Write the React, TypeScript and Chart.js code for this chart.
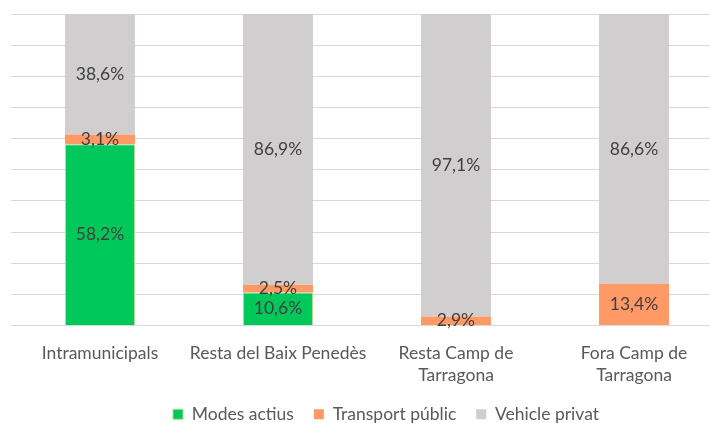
import React, { useEffect, useRef } from "react";
import { Chart, registerables } from "chart.js";

Chart.register(...registerables);

const categories: (string | string[])[] = [
  "Intramunicipals",
  "Resta del Baix Penedès",
  ["Resta Camp de", "Tarragona"],
  ["Fora Camp de", "Tarragona"],
];
const modesActius = [58.2, 10.6, 0, 0];
const transportPublic = [3.1, 2.5, 2.9, 13.4];
const vehiclePrivat = [38.6, 86.9, 97.1, 86.6];

const FONT = "Lato, 'Open Sans', sans-serif";
const FS = 17.5;

const valueLabels = {
  id: "valueLabels",
  afterLayout(chart: any) {
    if (chart.legend) {
      chart.legend.left += 19;
      chart.legend.right += 19;
    }
  },
  afterDatasetsDraw(chart: any) {
    const ctx = chart.ctx;
    ctx.save();
    ctx.font = `${FS}px ${FONT}`;
    ctx.fillStyle = "#404040";
    ctx.textAlign = "center";
    ctx.textBaseline = "middle";
    chart.data.datasets.forEach((ds: any, di: number) => {
      const meta = chart.getDatasetMeta(di);
      meta.data.forEach((el: any, i: number) => {
        const v = ds.data[i];
        if (!v) return;
        const y = (el.y + el.base) / 2;
        ctx.fillText(v.toFixed(1).replace(".", ",") + "%", el.x, y);
      });
    });
    ctx.restore();
  },
};

export default function App() {
  const ref = useRef<HTMLCanvasElement>(null);
  useEffect(() => {
    const chart = new Chart(ref.current!, {
      type: "bar",
      data: {
        labels: categories,
        datasets: [
          {
            label: "Modes actius",
            data: modesActius,
            backgroundColor: "#00c85a",
            borderColor: "#a9dc9a",
            borderWidth: 1,
          },
          {
            label: "Transport públic",
            data: transportPublic,
            backgroundColor: "#ff9966",
            borderWidth: 0,
          },
          {
            label: "Vehicle privat",
            data: vehiclePrivat,
            backgroundColor: "#d0cece",
            borderWidth: 0,
          },
        ],
      },
      options: {
        responsive: false,
        animation: false,
        devicePixelRatio: 1,
        layout: { padding: { left: 11, top: 14, right: 0, bottom: -10 } },
        datasets: {
          bar: { categoryPercentage: 1, barPercentage: 0.393 },
        },
        scales: {
          x: {
            stacked: true,
            grid: { display: false },
            border: { display: false },
            ticks: {
              color: "#595959",
              font: { family: FONT, size: FS, lineHeight: 1.27 },
              padding: 9,
              maxRotation: 0,
              autoSkip: false,
            },
            afterFit: (s: any) => {
              s.height = 60;
            },
          },
          y: {
            stacked: true,
            min: 0,
            max: 100,
            ticks: { display: false, stepSize: 10 },
            grid: { color: "#d9d9d9", lineWidth: 1, drawTicks: false },
            border: { display: false },
            afterFit: (s: any) => {
              s.width = 0;
            },
          },
        },
        plugins: {
          legend: {
            position: "bottom",
            labels: {
              color: "#595959",
              font: { family: FONT, size: FS },
              boxWidth: 10,
              boxHeight: 10,
              padding: 20,
            },
          },
          tooltip: { enabled: false },
        },
      },
      plugins: [valueLabels],
    });
    return () => chart.destroy();
  }, []);
  return (
    <div
      style={{
        position: "fixed",
        left: 0,
        top: 0,
        width: 710,
        height: 423,
        overflow: "hidden",
        background: "#fff",
      }}
    >
      <canvas ref={ref} width={723} height={423} style={{ display: "block" }} />
    </div>
  );
}
